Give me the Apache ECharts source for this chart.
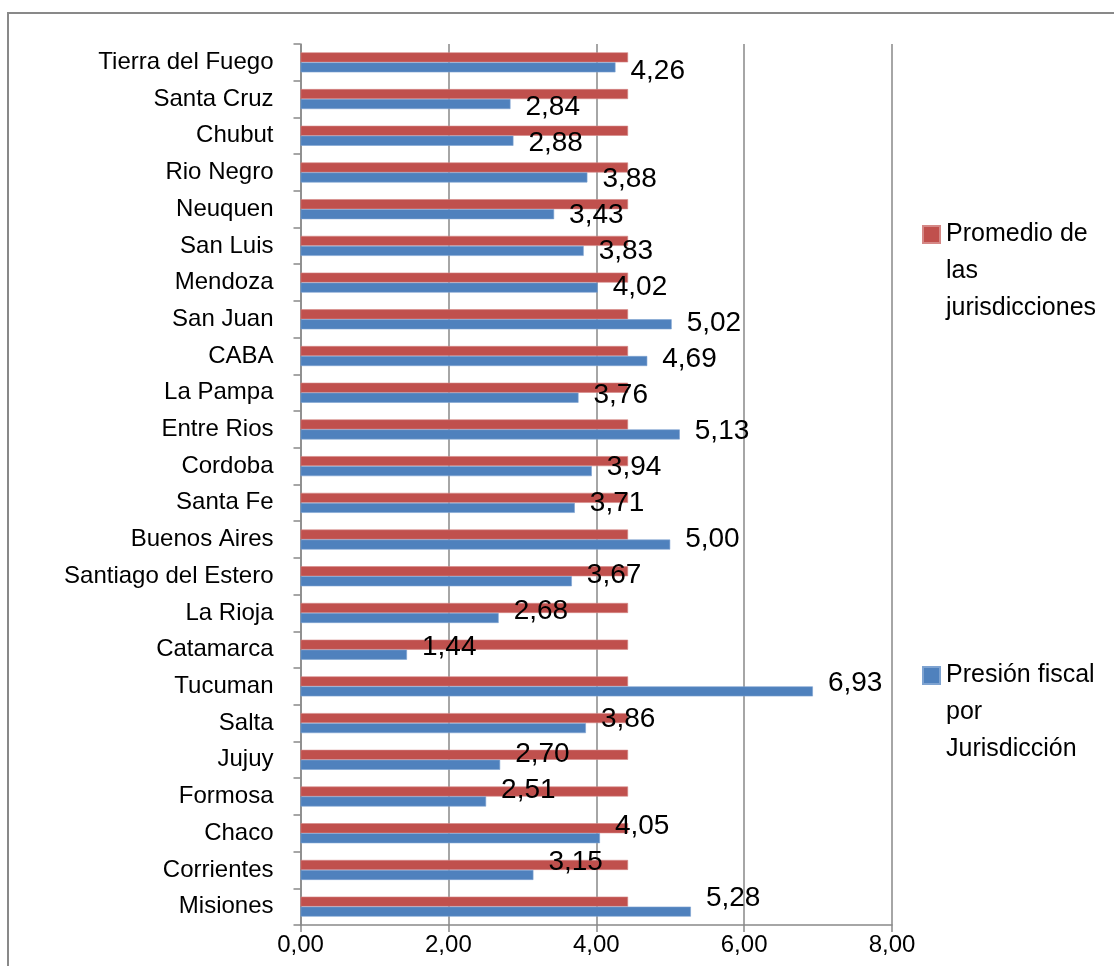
<!DOCTYPE html>
<html>
<head>
<meta charset="utf-8">
<script src="https://cdn.jsdelivr.net/npm/echarts@6/dist/echarts.min.js"></script>
<style>
html,body{margin:0;padding:0;background:#fff;}
#chart{width:1114px;height:966px;}
</style>
</head>
<body>
<div id="chart"></div>
<script>
// Categories, bottom to top
var categories = ["Misiones","Corrientes","Chaco","Formosa","Jujuy","Salta","Tucuman","Catamarca","La Rioja","Santiago del Estero","Buenos Aires","Santa Fe","Cordoba","Entre Rios","La Pampa","CABA","San Juan","Mendoza","San Luis","Neuquen","Rio Negro","Chubut","Santa Cruz","Tierra del Fuego"];
var presionFiscal = [5.28,3.15,4.05,2.51,2.70,3.86,6.93,1.44,2.68,3.67,5.00,3.71,3.94,5.13,3.76,4.69,5.02,4.02,3.83,3.43,3.88,2.88,2.84,4.26];
var promedio = [4.43,4.43,4.43,4.43,4.43,4.43,4.43,4.43,4.43,4.43,4.43,4.43,4.43,4.43,4.43,4.43,4.43,4.43,4.43,4.43,4.43,4.43,4.43,4.43];
var xTicks = [0,2,4,6,8];
var seriesNames = ["Presión fiscal por Jurisdicción","Promedio de las jurisdicciones"];
var legendLines = {
  "Presión fiscal por Jurisdicción": ["Presión fiscal","por","Jurisdicción"],
  "Promedio de las jurisdicciones": ["Promedio de","las","jurisdicciones"]
};

function fmt(v){ return Number(v).toFixed(2).replace('.', ','); }
// two blank lines before the text keep the first line level with the legend square
function legendFmt(n){ return '\n\n' + legendLines[n].join('\n'); }

var FONT = "'Liberation Sans', Arial, sans-serif";
var GRAY = '#898989';
var BLUE = '#4F81BD';
var RED = '#C0504D';

var blueData = presionFiscal.map(function(v, i){
  return { value: v, label: { offset: [0, -13 + 0.74 * i] } };
});

var legendText = { fontSize: 25, lineHeight: 37, color: '#000', fontFamily: FONT, padding: [0, 0, 0, 1] };

var chart = echarts.init(document.getElementById('chart'), null, {renderer: 'canvas'});
chart.setOption({
  animation: false,
  backgroundColor: '#fff',
  textStyle: { fontFamily: FONT },
  graphic: [{
    type: 'rect',
    shape: { x: 8, y: 13, width: 1200, height: 1000 },
    style: { fill: 'none', stroke: GRAY, lineWidth: 2 },
    silent: true, z: -10
  }],
  grid: { left: 300.5, right: 222, top: 44, bottom: 41, containLabel: false },
  legend: [{
    data: [seriesNames[1]],
    orient: 'vertical',
    left: 917, top: 137,
    itemWidth: 17, itemHeight: 17,
    icon: 'rect',
    formatter: legendFmt,
    textStyle: legendText
  },{
    data: [seriesNames[0]],
    orient: 'vertical',
    left: 917, top: 578,
    itemWidth: 17, itemHeight: 17,
    icon: 'rect',
    formatter: legendFmt,
    textStyle: legendText
  }],
  xAxis: {
    type: 'value',
    min: xTicks[0], max: xTicks[xTicks.length-1], interval: 2,
    axisLine: { show: true, lineStyle: { color: GRAY, width: 1.5 } },
    axisTick: { show: true, length: 7, lineStyle: { color: GRAY, width: 1.5 } },
    splitLine: { show: true, lineStyle: { color: GRAY, width: 1.5 } },
    axisLabel: { fontSize: 24, color: '#000', margin: 8, fontFamily: FONT, formatter: fmt }
  },
  yAxis: {
    type: 'category',
    data: categories,
    axisLine: { show: true, lineStyle: { color: GRAY, width: 1.5 } },
    axisTick: { show: true, length: 7, alignWithLabel: false, lineStyle: { color: GRAY, width: 1.5 } },
    axisLabel: { fontSize: 24, color: '#000', margin: 27, fontFamily: FONT, interval: 0 },
    splitLine: { show: false }
  },
  series: [{
    name: seriesNames[1],
    type: 'bar',
    data: promedio,
    barWidth: 10,
    barGap: '0%',
    itemStyle: { color: RED, borderColor: '#D58886', borderWidth: 0.6 },
    label: { show: false },
    z: 2
  },{
    name: seriesNames[0],
    type: 'bar',
    data: blueData,
    barWidth: 10,
    barGap: '0%',
    itemStyle: { color: BLUE, borderColor: '#7EA3D1', borderWidth: 0.6 },
    label: {
      show: true, position: 'right', distance: 15,
      fontSize: 28, color: '#000', fontFamily: FONT,
      formatter: function(p){ return fmt(p.value); }
    },
    z: 3
  }]
});
</script>
</body>
</html>
